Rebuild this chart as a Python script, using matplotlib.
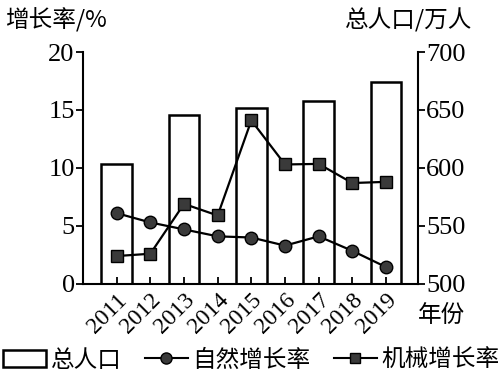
import matplotlib.pyplot as plt
from matplotlib.patches import Patch
from matplotlib.lines import Line2D

plt.rcParams['font.family'] = ['Liberation Serif', 'Noto Sans CJK SC']

# data
years = [2011, 2012, 2013, 2014, 2015, 2016, 2017, 2018, 2019]
natural_rate = [6.1, 5.3, 4.7, 4.1, 4.0, 3.3, 4.1, 2.85, 1.45]
mech_rate = [2.4, 2.6, 6.9, 5.9, 14.1, 10.3, 10.35, 8.7, 8.8]
pop_years = [2011, 2013, 2015, 2017, 2019]
population = [603, 645.5, 651.5, 658, 674.5]

CJK = ['Noto Sans CJK SC', 'DejaVu Sans']

fig = plt.figure(figsize=(5.03, 3.77), dpi=100)
ax = fig.add_axes([0.165, 0.247, 0.666, 0.615])
ax2 = ax.twinx()

# bars for total population on the right axis
ax2.bar(pop_years, population, width=0.92, bottom=0, facecolor='white',
        edgecolor='black', linewidth=1.8)
ax2.set_ylim(500, 700)
ax2.set_yticks([500, 550, 600, 650, 700])
ax2.tick_params(axis='y', direction='out', length=5, width=1.3, labelsize=19, pad=1)

# growth rate lines on the left axis
ax.plot(years, natural_rate, color='black', lw=1.6, marker='o', markersize=9,
        markerfacecolor='#3a3a3a', markeredgecolor='black')
ax.plot(years, mech_rate, color='black', lw=1.6, marker='s', markersize=8,
        markerfacecolor='#3a3a3a', markeredgecolor='black')
ax.set_ylim(0, 20)
ax.set_yticks([0, 5, 10, 15, 20])
ax.set_xlim(2010.0, 2019.95)
ax.set_xticks(years)
ax.set_xticklabels([str(y) for y in years], rotation=45, ha='right',
                   va='top', rotation_mode='anchor')
ax.tick_params(axis='y', direction='out', length=5, width=1.3, labelsize=19, pad=1)
ax.tick_params(axis='x', direction='in', length=5, width=1.3, labelsize=17, pad=4)

ax.set_zorder(ax2.get_zorder() + 1)
ax.patch.set_visible(False)

for a in (ax, ax2):
    a.spines['top'].set_visible(False)
    for s in ('left', 'right', 'bottom'):
        a.spines[s].set_linewidth(1.5)
ax2.spines['left'].set_visible(False)
ax.spines['right'].set_visible(False)
ax2.spines['bottom'].set_visible(False)

# axis titles
fig.text(0.01, 0.947, '增长率/%', family=CJK, fontsize=17, va='center', ha='left',
         weight='medium')
fig.text(0.94, 0.945, '总人口/万人', family=CJK, fontsize=17, va='center', ha='right',
         weight='medium')
fig.text(0.877, 0.163, '年份', family=CJK, fontsize=17, va='center', ha='center',
         weight='medium')

handles = [
    Patch(facecolor='white', edgecolor='black', linewidth=1.8),
    Line2D([], [], color='black', lw=1.5, marker='o', markersize=8,
           markerfacecolor='#3a3a3a', markeredgecolor='black'),
    Line2D([], [], color='black', lw=1.5, marker='s', markersize=7,
           markerfacecolor='#3a3a3a', markeredgecolor='black'),
]
fig.legend(handles, ['总人口', '自然增长率', '机械增长率'], loc='center',
           bbox_to_anchor=(0.5, 0.045), ncol=3, frameon=False,
           prop={'family': CJK, 'size': 17, 'weight': 'medium'}, handlelength=1.8,
           handletextpad=0.2, columnspacing=1.0, borderaxespad=0)

fig.savefig('out.png', dpi=100)
